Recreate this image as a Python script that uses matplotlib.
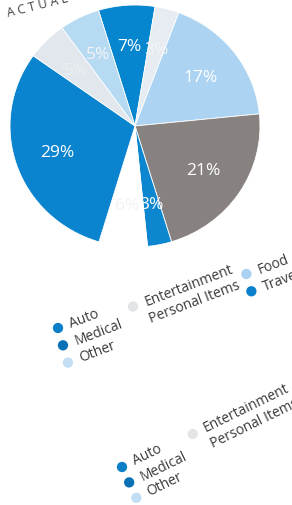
import numpy as np
import matplotlib
matplotlib.use("Agg")
import matplotlib.pyplot as plt

plt.rcParams['font.family'] = ['Open Sans', 'DejaVu Sans']

# ---- data ----
slice_values = [7, 3, 17, 21, 3, 6, 29, 5, 5]
slice_colors = ["#0786d0", "#e6ecf1", "#acd4f2", "#878180", "#0b86cf",
                "#ffffff", "#0a84cf", "#e1e7ec", "#b7daf3"]
label_colors = ["white", "#f4f4f4", "white", "white", "white",
                "#f2f2f2", "white", "#eeeeee", "#f4f4f4"]

legend_names = ["Auto", "Medical", "Other", "Entertainment", "Personal Items", "Food", "Travel"]
legend_colors = ["#0a7fc8", "#0a70b6", "#c3def3", "#e2e4e6", "#ffffff", "#a9d0f0", "#0a7fcb"]

title_text = "A C T U A L"

fig = plt.figure(figsize=(2.92, 5.06), dpi=100)
fig.patch.set_facecolor("white")

# title, running off the top edge
fig.text(6 / 292, 1 - 17 / 506, title_text, rotation=14, fontsize=9, color="#444444",
         ha="left", va="baseline", zorder=-1)

# ---- pie ----
W, H = 292, 506
cx, cy, rx, ry = 135, 127, 125, 121
ax = fig.add_axes([(cx - rx) / W, 1 - (cy + ry) / H, 2 * rx / W, 2 * ry / H])
wedges, _ = ax.pie(slice_values, colors=slice_colors, startangle=107, counterclock=False,
                   wedgeprops=dict(edgecolor="white", linewidth=0.6))
for v, w, c in zip(slice_values, wedges, label_colors):
    mid = np.deg2rad((w.theta1 + w.theta2) / 2)
    ax.text(0.66 * np.cos(mid), 0.66 * np.sin(mid), f"{v}%", ha="center", va="center",
            fontsize=12.5, color=c)
ax.set_aspect("auto")
ax.set_xlim(-1, 1)
ax.set_ylim(-1, 1)

# ---- rotated legends ----
lax = fig.add_axes([0, 0, 1, 1], zorder=-2)
lax.set_xlim(0, W)
lax.set_ylim(H, 0)
lax.axis("off")

layout = [(0, 0), (0, 1), (0, 2), (1, 0), (1, 1), (2, 0), (2, 1)]
col_x = [0, 78, 196]


def draw_legend(ox, oy, pos_angle, text_angle, row_h, fs):
    t = np.deg2rad(pos_angle)
    u = np.array([np.cos(t), -np.sin(t)])
    v = np.array([np.sin(t), np.cos(t)])
    tt = np.deg2rad(text_angle)
    ut = np.array([np.cos(tt), -np.sin(tt)])
    for name, col, (c, r) in zip(legend_names, legend_colors, layout):
        p = np.array([ox, oy]) + col_x[c] * u + r * row_h * v
        lax.scatter([p[0]], [p[1]], s=55, color=col, edgecolors="none")
        q = p + 13 * ut
        lax.text(q[0], q[1], name, rotation=text_angle, rotation_mode="anchor",
                 ha="left", va="center", fontsize=fs, color="#3a3a3a")


draw_legend(58, 329, 16, 21, 18, 10)
draw_legend(122, 468, 25, 26, 17, 10)

fig.savefig("out.png", dpi=100)
